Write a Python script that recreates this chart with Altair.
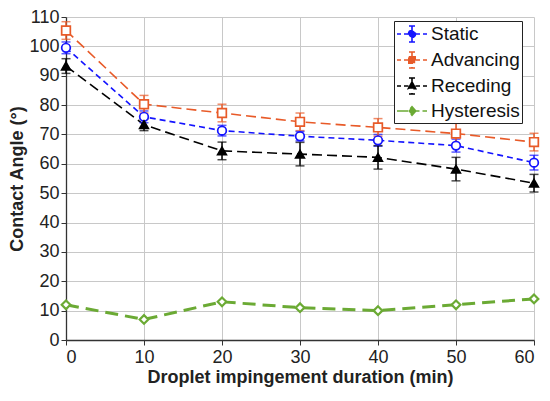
import altair as alt
import pandas as pd

durations = [0, 10, 20, 30, 40, 50, 60]
series_names = ["Static", "Advancing", "Receding", "Hysteresis"]
static_vals = [99.5, 76, 71.3, 69.4, 68, 66.2, 60.4]
static_err = [2, 2, 1.8, 1.6, 2, 2.2, 2.5]
adv_vals = [105.4, 80.3, 77.3, 74.3, 72.4, 70.3, 67.4]
adv_err = [3, 3, 3, 3, 3, 3.5, 3]
rec_vals = [93.3, 73.3, 64.4, 63.3, 62.2, 58.2, 53.4]
rec_err = [2.5, 2, 3, 4, 4, 4, 3]
hys_vals = [12, 7, 13, 11, 10, 12, 14]
hys_err = [0, 0, 0, 0, 0, 0, 0]
y_ticks = [0, 10, 20, 30, 40, 50, 60, 70, 80, 90, 100, 110]

colors = ["#1414FF", "#E85A28", "#000000", "#6BAA34"]
fills = ["#ffffff", "#ffffff", "#000000", "#ffffff"]
shapes = ["circle", "square", "triangle-up", "diamond"]
dashes = [[6, 4], [10, 5], [10, 5], [13, 7]]

# legend glyphs: dashed line + error bar + marker (symbol box is [-1, 1], 10 px per unit)
ebar = "M0,-0.8V0.8M-0.3,-0.8H0.3M-0.3,0.8H0.3"
dash_line = "M-1.5,0H-1.1M-0.8,0H-0.35M0.35,0H0.8M1.1,0H1.5"
legend_glyphs = [
    dash_line + ebar + "M0.35,0A0.35,0.35 0 1,1 -0.35,0A0.35,0.35 0 1,1 0.35,0",
    dash_line + ebar + "M-0.32,-0.32H0.32V0.32H-0.32Z",
    dash_line + ebar + "M0,-0.4L0.37,0.27L-0.37,0.27Z",
    "M-1.5,0H-0.38M0.38,0H0.75M1.05,0H1.5" + "M0,-0.42L0.38,0L0,0.42L-0.38,0Z",
]

rows = []
for name, vals, errs in zip(series_names,
                            [static_vals, adv_vals, rec_vals, hys_vals],
                            [static_err, adv_err, rec_err, hys_err]):
    for d, v, e in zip(durations, vals, errs):
        rows.append({"series": name, "duration": d, "angle": v,
                     "lo": v - e, "hi": v + e, "err": e})
df = pd.DataFrame(rows)

FONT = "Liberation Sans"
xscale = alt.Scale(domain=[0, 60], nice=False, zero=False)
yscale = alt.Scale(domain=[0, 110], nice=False)
cscale = alt.Scale(domain=series_names, range=colors)
fscale = alt.Scale(domain=series_names, range=fills)
gscale = alt.Scale(domain=series_names, range=legend_glyphs)
dscale = alt.Scale(domain=series_names, range=dashes)

xaxis = alt.Axis(title="Droplet impingement duration (min)", values=durations,
                 grid=True, labelOverlap=False)
yaxis = alt.Axis(title="Contact Angle (°)", values=y_ticks, grid=True, labelOverlap=False)
x = alt.X("duration:Q", scale=xscale, axis=xaxis)
y = alt.Y("angle:Q", scale=yscale, axis=yaxis)

legend = alt.Legend(title=None, orient="none", legendX=328, legendY=4,
                    strokeColor="#222", fillColor="white",
                    padding=2, labelFontSize=19, labelFont=FONT,
                    labelColor="#111", labelOffset=8, symbolOffset=5,
                    symbolSize=400, symbolStrokeWidth=1.6, symbolOpacity=1,
                    rowPadding=2, labelLimit=200)
color = alt.Color("series:N", scale=cscale, legend=legend)
fill = alt.Fill("series:N", scale=fscale, legend=legend)

base = alt.Chart(df)

lines_thin = base.transform_filter(alt.datum.series != "Hysteresis").mark_line(strokeWidth=1.6).encode(
    x=x, y=y, color=color,
    strokeDash=alt.StrokeDash("series:N", scale=dscale, legend=None),
)
lines_hys = base.transform_filter(alt.datum.series == "Hysteresis").mark_line(strokeWidth=3).encode(
    x=x, y=y, color=color,
    strokeDash=alt.StrokeDash("series:N", scale=dscale, legend=None),
)

errbars = base.transform_filter(alt.datum.err > 0).mark_errorbar(
    ticks=alt.MarkConfig(size=9), thickness=1.5
).encode(
    x=x,
    y=alt.Y("lo:Q", scale=yscale, axis=yaxis),
    y2="hi:Q",
    color=color,
)

point_layers = []
for name, shp in zip(series_names, shapes):
    sw = 2.2 if name == "Hysteresis" else 1.7
    point_layers.append(
        base.transform_filter(alt.datum.series == name).mark_point(
            shape=shp, filled=False, strokeWidth=sw, size=75, opacity=1
        ).encode(x=x, y=y, color=color, fill=fill)
    )

legend_layer = base.transform_filter(alt.datum.duration < 0).mark_point(
    filled=False, strokeWidth=1.6, opacity=1
).encode(
    x=x, y=y, color=color, fill=fill,
    shape=alt.Shape("series:N", scale=gscale, legend=legend),
)

chart = alt.layer(lines_thin, lines_hys, errbars, *point_layers, legend_layer).properties(
    width=468, height=323,
    padding={"left": 58, "top": 9, "right": 8, "bottom": 55},
    autosize=alt.AutoSizeParams(type="none"),
).configure_view(stroke=None).configure_axis(
    labelFont=FONT, titleFont=FONT,
    labelFontSize=18, titleFontSize=18, titleFontWeight="bold",
    labelColor="#222", titleColor="#222",
    gridColor="#c8c8c8", gridWidth=1,
    domainColor="#333", tickColor="#333", tickSize=5, domainWidth=1.3,
).configure_axisY(titlePadding=2, labelPadding=2).configure_axisX(titlePadding=2, labelPadding=3)

chart.save("out.html", embed_options={"renderer": "svg", "actions": False})
